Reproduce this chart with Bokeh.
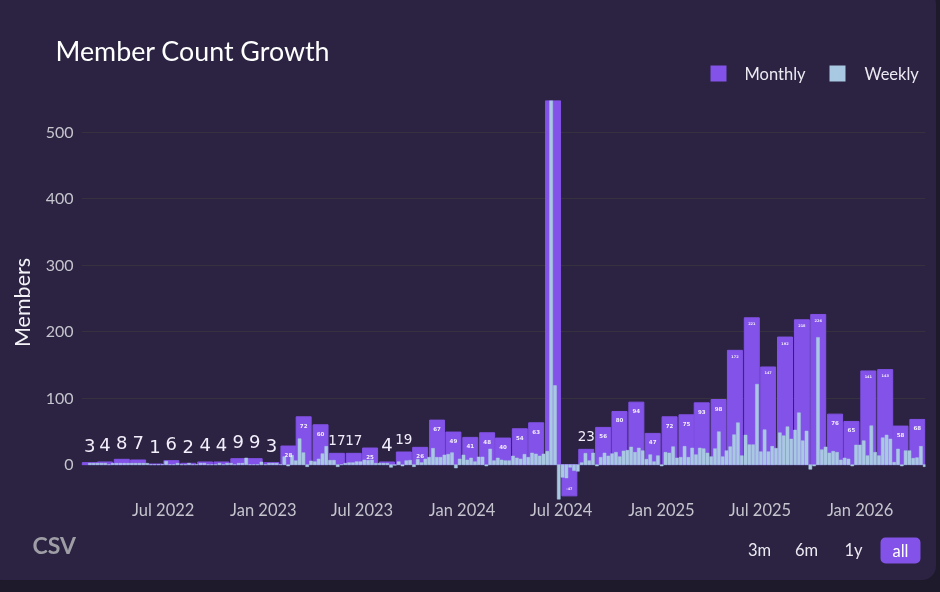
import pandas as pd
from bokeh.core.properties import value
from bokeh.embed import file_html
from bokeh.layouts import column
from bokeh.resources import INLINE
from bokeh.plotting import figure
from bokeh.models import (ColumnDataSource, Range1d, FixedTicker, DatetimeTickFormatter,
                          BoxAnnotation, Label, Span)

# ---------- data ----------
month_first = "2022-02-01"
monthly_values = [3, 4, 8, 7, 1, 6, 2, 4, 4, 9, 9, 3,
                  28, 72, 60, 17, 17, 25, 4, 19, 26, 67, 49,
                  41, 48, 40, 54, 63, 600, -47, 23, 56, 80, 94, 47,
                  72, 75, 93, 98, 172, 221, 147, 192, 218, 226, 76, 65,
                  141, 143, 58, 68]
week_first = "2022-02-16 12:00"
weekly_values = [2, 2, 2, 2, 2, 0, 2, 2, 2, 2, 2, 2, 2, 2, 2, 2, 0, 0, 0, 0,
                 5, 0, 0, 2, 0, 0, 2, 0, 0, 2, 2, 0, 0, 0, 2, 0, 2, 2, 0, 2,
                 2, 10, 0, 0, 0, 4, 0, 2, 2, 2, 0,
                 12, -2, 14, 6, 39, 18, -3, 5.5, 4.5, 8.5, 16.5, 27.5, 6.5, 6.5, -3, 0, 2, 3, 3,
                 4.5, 4.5, 7, 6.5, 7, 2, 2, 2, 2, -4, -1, 4.5, -2, 6, 6.5, -3, 8, 3, 8.5, 11,
                 24.5, 11, 11, 14.5, 15.5, 18, -5, 8.5, 14.5, 7, 10, 4.5, 11.5, 11.5, -2, 23.5,
                 6, 10, 7, 6, 6, 13, 10, 8.5, 15.5, 11, 17.5, 16, 13, 16, 20, 600, 119, -52,
                 -19, -20, -4, -9, -10, 3, 17, 6, 17.5, -2, 11, 17.5, 13, 16.5, 18.5, 12, 20.5,
                 21.5, 26.5, 18.5, 25, 21, 8, 15, 4.5, 13.5, -2, 18.5, 17.5, 27, 10, 11, 27.5,
                 11, 25, 15, 25, 24, 17.5, 12, 24, 49.5, 12, 21, 27, 45, 63, 13.5, 44.5, 30, 30,
                 121, 19.5, 52.5, 19.5, 27.5, 24.5, 48, 43.5, 57, 38.5, 52, 78, 36, 50.5, -7, -2,
                 191.5, 22.5, 26.5, 17.5, 20, 18.5, 7, 10, 8.5, -2, 29.5, 29.5, 36, 13.5, 58.5,
                 18.5, 13.5, 40.5, 44.5, 38.5, 3.5, 23.5, -2, 21, 21, 9.5, 10.5, 27.5, -3]
x_tick_dates = ["2022-07-01", "2023-01-01", "2023-07-01", "2024-01-01",
                "2024-07-01", "2025-01-01", "2025-07-01", "2026-01-01"]
y_ticks = [0, 100, 200, 300, 400, 500]
series_names = ["Monthly", "Weekly"]
range_buttons = ["3m", "6m", "1y", "all"]

# ---------- style ----------
CARD = "#2b2341"
OUTER = "#1e1a2b"
PURPLE = "#8352e8"
BLUE = "#a9c9e2"
MUTED = "#c6c4ce"
SANS = "Lato"
Y_MAX = 548
Y_MIN = -60
DAYS = 1550
F_LEFT, F_TOP, F_W, F_H = 81, 100, 844, 404
F_BOTTOM = F_TOP + F_H
MAIN_BOTTOM = F_BOTTOM + 24
PAGE_W, PAGE_H = 940, 592

month_starts = pd.date_range(month_first, periods=len(monthly_values), freq="MS")
month_mid = month_starts + pd.Timedelta(days=15)
week_x = pd.date_range(week_first, periods=len(weekly_values), freq="7D")

sizes, offsets, labels, styles = [], [], [], []
for v in monthly_values:
    if v > Y_MAX:
        labels.append(""); sizes.append("5px"); offsets.append(0); styles.append("bold")
    elif 0 <= v < 10:
        labels.append(str(v)); sizes.append("18px"); offsets.append(-17); styles.append("normal")
    elif 10 <= v <= 23:
        labels.append(str(v)); sizes.append("13.5px"); offsets.append(-13.5); styles.append("normal")
    elif v < 0:
        labels.append(str(v)); sizes.append("3.5px"); offsets.append(-7); styles.append("bold")
    elif v >= 100:
        labels.append(str(v)); sizes.append("3.5px"); offsets.append(6); styles.append("bold")
    else:
        labels.append(str(v)); sizes.append("5.5px"); offsets.append(8.5); styles.append("bold")

monthly_src = ColumnDataSource(dict(x=month_mid, top=monthly_values, label=labels,
                                    size=sizes, off=offsets, style=styles))
weekly_src = ColumnDataSource(dict(x=week_x, top=weekly_values))

x0 = pd.Timestamp(month_first)
p = figure(width=PAGE_W, height=MAIN_BOTTOM - F_TOP, frame_width=F_W, frame_height=F_H,
           output_backend="svg", toolbar_location=None, frame_align=False,
           x_axis_type="datetime",
           x_range=Range1d(x0, x0 + pd.Timedelta(days=DAYS)),
           y_range=Range1d(Y_MIN, Y_MAX),
           min_border_left=F_LEFT, min_border_right=PAGE_W - F_LEFT - F_W,
           min_border_top=0, min_border_bottom=MAIN_BOTTOM - F_BOTTOM,
           background_fill_color=None, border_fill_color=None, outline_line_color=None)

DAY_MS = 86400000
r_month = p.vbar(x="x", top="top", bottom=0, width=27.5 * DAY_MS, source=monthly_src,
                 fill_color=PURPLE, line_color=PURPLE, line_width=1)
r_week = p.vbar(x="x", top="top", bottom=0, width=5.6 * DAY_MS, source=weekly_src,
                fill_color=BLUE, line_color=BLUE, line_width=0.5)
p.text(x="x", y="top", text="label", source=monthly_src, text_font_size="size", y_offset="off",
       text_font_style="style", text_color="#f3eefc", text_align="center", text_baseline="middle",
       text_font=value("DejaVu Sans"))

p.add_layout(Span(location=0, dimension="width", line_color="#4c4a6c", line_width=1, level="underlay"))

p.xaxis.ticker = FixedTicker(ticks=[pd.Timestamp(d).timestamp() * 1000 for d in x_tick_dates])
p.xaxis.formatter = DatetimeTickFormatter(months="%b %Y", days="%b %Y", years="%b %Y", hours="%b %Y")
p.xaxis.major_label_text_font_size = "16.5px"
p.yaxis.ticker = FixedTicker(ticks=y_ticks)
p.yaxis.major_label_text_font_size = "16px"
p.xaxis.major_label_standoff = -5
p.yaxis.major_label_standoff = 8
for ax in (p.xaxis, p.yaxis):
    ax.axis_line_color = None
    ax.major_tick_line_color = None
    ax.minor_tick_line_color = None
    ax.major_tick_out = 0
    ax.major_tick_in = 0
    ax.minor_tick_out = 0
    ax.minor_tick_in = 0
    ax.major_label_text_color = MUTED
    ax.major_label_text_font = SANS

p.yaxis.axis_label = "Members"
p.yaxis.axis_label_text_color = "#f4f3f7"
p.yaxis.axis_label_text_font = SANS
p.yaxis.axis_label_text_font_style = "normal"
p.yaxis.axis_label_text_font_size = "21.5px"
p.yaxis.axis_label_standoff = 8

p.xgrid.grid_line_color = None
p.ygrid.grid_line_color = "#36313f"
p.ygrid.grid_line_width = 1.2


def strip(height):
    s = figure(width=PAGE_W, height=height, frame_width=PAGE_W, frame_height=height,
               output_backend="svg", toolbar_location=None, frame_align=False,
               x_range=Range1d(0, PAGE_W), y_range=Range1d(0, height),
               x_axis_location=None, y_axis_location=None,
               min_border_left=0, min_border_right=0, min_border_top=0, min_border_bottom=0,
               background_fill_color=None, border_fill_color=None, outline_line_color=None)
    s.xgrid.visible = False
    s.ygrid.visible = False
    return s


def strip_text(s, text, sx, sy, **kw):
    style = dict(text_font=SANS, text_baseline="middle", text_color="#ece9f2", text_font_size="16.5px")
    style.update(kw)
    s.add_layout(Label(x=sx, y=s.height - sy, x_units="screen", y_units="screen", text=text, **style))


def swatch(s, sx0, sx1, sy0, sy1, color):
    s.add_layout(BoxAnnotation(left=sx0, right=sx1, top=s.height - sy0, bottom=s.height - sy1,
                               left_units="screen", right_units="screen",
                               top_units="screen", bottom_units="screen",
                               fill_color=color, fill_alpha=1, line_color=None, level="overlay"))


head = strip(F_TOP)
swatch(head, 710, 726, 65, 81, PURPLE)
swatch(head, 829, 845, 65, 81, BLUE)
strip_text(head, series_names[0], 744, 73)
strip_text(head, series_names[1], 864, 73)
strip_text(head, "Member Count Growth", 55, 50, text_font_size="26.8px", text_color="#ffffff")

foot = strip(PAGE_H - MAIN_BOTTOM)
dy = MAIN_BOTTOM
strip_text(foot, "CSV", 32, 544 - dy, text_font_size="23px", text_font_style="bold", text_color="#9f9ea6")
strip_text(foot, range_buttons[0], 759, 549 - dy, text_align="center")
strip_text(foot, range_buttons[1], 806, 549 - dy, text_align="center")
strip_text(foot, range_buttons[2], 853, 549 - dy, text_align="center")
strip_text(foot, range_buttons[3], 900, 550 - dy, text_align="center", text_color="#ffffff",
           background_fill_color=PURPLE, border_radius=5, padding=(12, 3))

page = column(head, p, foot, spacing=0)

css = ("<style>html{background:%s;overflow:hidden}html,body{margin:0;padding:0;height:100%%}"
       "body{background:transparent}"
       "body::before{content:'';position:fixed;left:-12px;top:-10px;right:4px;bottom:12px;"
       "border-radius:14px;background:%s;z-index:-1}</style></head>" % (OUTER, CARD))
html = file_html(page, INLINE).replace("</head>", css, 1)
open("out.html", "w").write(html)
